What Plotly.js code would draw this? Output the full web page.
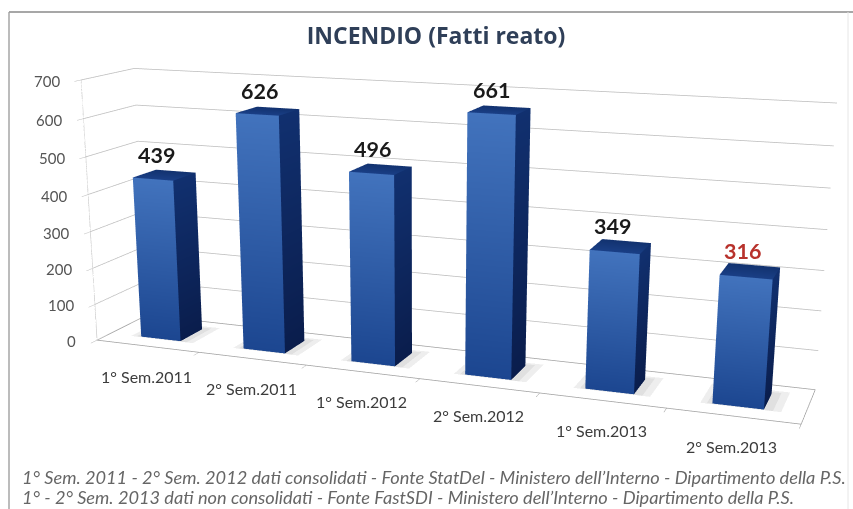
<!DOCTYPE html>
<html><head><meta charset="utf-8"><script src="https://cdn.plot.ly/plotly-3.0.1.min.js"></script>
<style>html,body{margin:0;padding:0;background:#fff;width:853px;height:509px;overflow:hidden}
#c{position:absolute;left:0;top:-315px;width:853px;height:1272px}</style></head><body><div id="c"></div>
<script>
const categories=["1° Sem.2011","2° Sem.2011","1° Sem.2012","2° Sem.2012","1° Sem.2013","2° Sem.2013"];
const values=[439,626,496,661,349,316];
const yTicks=[0,100,200,300,400,500,600,700];
const titleText='INCENDIO (Fatti reato)';
const notes=["1° Sem. 2011 - 2° Sem. 2012 dati consolidati - Fonte StatDel - Ministero dell’Interno - Dipartimento della P.S.","1° - 2° Sem. 2013 dati non consolidati - Fonte FastSDI - Ministero dell’Interno - Dipartimento della P.S."];
const H=1272,OFF=315,PW=853;
const px=x=>x/PW, py=y=>1-(y+OFF)/H;
const HW=0.195,HD=0.23;
const tr=[];
function quad(m,p,c){const n=m.x.length;p.forEach((q,k)=>{m.x.push(q[0]);m.y.push(q[1]);m.z.push(q[2]);m.vertexcolor.push(c[k]);});
 m.i.push(n,n);m.j.push(n+1,n+2);m.k.push(n+2,n+3);}
const XMIN=-0.5,XMAX=5.5,YMIN=-0.5,YMAX=0.5;
tr.push({type:'scatter3d',mode:'lines',x:[XMIN,XMAX,XMAX,XMIN,XMIN],y:[YMIN,YMIN,YMAX,YMAX,YMIN],z:[0,0,0,0,0],line:{color:'#a0a0a0',width:1.5},hoverinfo:'skip'});
tr.push({type:'scatter3d',mode:'lines',x:[XMIN,XMIN],y:[YMIN,YMIN],z:[0,700],line:{color:'#cccccc',width:1.5},hoverinfo:'skip'});
values.forEach((v,i)=>{
 const x0=i-HW,x1=i+HW,y0=-HD,y1=HD;
 [[0.09,0.13,0.1,0.5],[0.04,0.07,0.05,1]].forEach(g=>{
  const s={type:'mesh3d',x:[],y:[],z:[],i:[],j:[],k:[],vertexcolor:[],opacity:0.14,lighting:{ambient:1,diffuse:0,specular:0,fresnel:0},hoverinfo:'skip',showscale:false};
  quad(s,[[x0-g[0],y0-0.02,g[3]],[x1+g[1],y0-0.02,g[3]],[x1+g[1],y1+g[2],g[3]],[x0-g[0],y1+g[2],g[3]]],['#888','#888','#888','#888']);
  tr.push(s);
 });
 const m={type:'mesh3d',x:[],y:[],z:[],i:[],j:[],k:[],vertexcolor:[],flatshading:true,lighting:{ambient:1,diffuse:0,specular:0,fresnel:0},hoverinfo:'skip',showscale:false};
 quad(m,[[x0,y0,0],[x1,y0,0],[x1,y0,v],[x0,y0,v]],['#1c4690','#1c4690','#4273bd','#4273bd']);
 quad(m,[[x1,y0,0],[x1,y1,0],[x1,y1,v],[x1,y0,v]],['#0a1d4c','#0a1d4c','#11306f','#11306f']);
 quad(m,[[x0,y0,v],[x1,y0,v],[x1,y1,v],[x0,y1,v]],['#1a3f86','#1a3f86','#12326f','#12326f']);
 tr.push(m);
});
const ann=[];
values.forEach((v,i)=>ann.push({x:i,y:0,z:v,text:'<b>'+v+'</b>',showarrow:false,yshift:20,xshift:-8,font:{family:'Lato',size:21.5,color:i==5?'#b8322c':'#1a1a1a'}}));
categories.forEach((c,i)=>ann.push({x:i,y:YMIN,z:0,text:c,showarrow:false,yshift:-30,xshift:-1,font:{family:'Lato',size:16,color:'#3c3c3c'}}));
yTicks.forEach(t=>ann.push({x:XMIN,y:YMIN,z:t,text:String(t),showarrow:false,xanchor:'right',xshift:-19,yshift:-1,font:{family:'Lato',size:15,color:'#555'}}));
const layout={width:PW,height:H,margin:{l:0,r:0,t:0,b:0,pad:0},showlegend:false,paper_bgcolor:'#fff',
 title:{text:'<b>'+titleText+'</b>',xref:'paper',yref:'paper',x:px(436),y:py(36),xanchor:'center',yanchor:'middle',font:{family:'Open Sans',size:23,color:'#2f3f58'}},
 shapes:[
  {type:'line',xref:'paper',yref:'paper',x0:px(9),x1:px(853),y0:py(12),y1:py(12),line:{color:'#8a8a8a',width:1.4}},
  {type:'line',xref:'paper',yref:'paper',x0:px(9),x1:px(9),y0:py(12),y1:py(509),line:{color:'#a0a0a0',width:1.4}},
  {type:'line',xref:'paper',yref:'paper',x0:px(848),x1:px(848),y0:py(12),y1:py(509),line:{color:'#e6e6e6',width:1}}],
 annotations:notes.map((t,k)=>({xref:'paper',yref:'paper',x:px(20),y:py(477+k*20),xanchor:'left',yanchor:'middle',showarrow:false,text:'<i>'+t+'</i>',font:{family:'Lato',size:18.2,color:'#666'}})),
 scene:{domain:{x:[0,840/853],y:[0,1]},
  camera:{eye:{x:1.589,y:-4.356,z:1.057},center:{x:-0.0257,y:-0.093,z:-0.268},up:{x:0,y:0,z:1},projection:{type:'perspective'}},
  aspectmode:'manual',aspectratio:{x:2.30,y:0.323,z:0.863},
  xaxis:{range:[XMIN,XMAX],tickvals:[-0.5,0.5,1.5,2.5,3.5,4.5,5.5],showticklabels:false,ticks:'outside',ticklen:4,tickcolor:'#999',title:{text:''},showgrid:false,zeroline:false,showline:false,showbackground:false,showspikes:false},
  yaxis:{range:[YMIN,YMAX],showticklabels:false,ticks:'',showgrid:false,title:{text:''},zeroline:false,showline:false,showbackground:false,showspikes:false},
  zaxis:{range:[0,700],tickvals:yTicks,showticklabels:false,ticks:'outside',ticklen:4,tickcolor:'#bbb',title:{text:''},gridcolor:'#bcbcbc',gridwidth:1.5,zeroline:false,showline:false,showbackground:false,showspikes:false},
  annotations:ann
 }};
Plotly.newPlot('c',tr,layout,{displayModeBar:false});
</script></body></html>
